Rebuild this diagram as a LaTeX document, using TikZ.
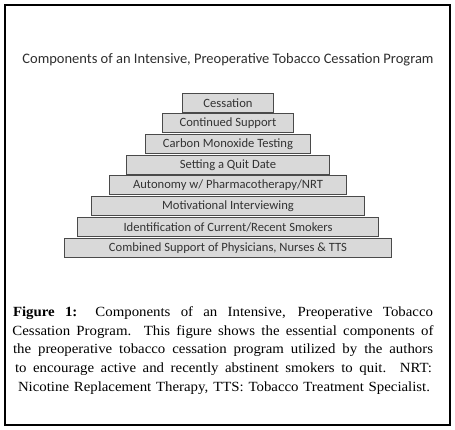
\documentclass[tikz,border=0pt]{standalone}
\usepackage{fontspec}
\setmainfont{Liberation Serif}
\newfontfamily\capfont[FakeStretch=1.06]{Liberation Serif}
\newfontfamily\carl{Carlito}
\definecolor{boxfill}{HTML}{D9D9D9}
\definecolor{boxdraw}{HTML}{4A4A4A}
\definecolor{txt}{HTML}{333333}
\begin{document}
\begin{tikzpicture}[x=1pt,y=1pt,
  tier/.style={draw=boxdraw,fill=boxfill,line width=1.2pt,minimum height=19pt,inner sep=0pt,
    font=\carl\fontsize{12.6}{14}\selectfont,text=txt},
  capline/.style={inner sep=0pt,font=\capfont\fontsize{14}{16}\selectfont}]
\useasboundingbox (0,0) rectangle (455,430);
\draw[line width=1.3pt] (5,5) rectangle (450,425);
\node[font=\carl\fontsize{14.5}{16}\selectfont,text=txt!90!black] (title) at (228,370) {Components of an Intensive, Preoperative Tobacco Cessation Program};
\node[tier,minimum width=91pt]  (b1) at (228,430-103) {Cessation};
\node[tier,minimum width=131pt] (b2) at (228,430-123) {Continued Support};
\node[tier,minimum width=165pt] (b3) at (228,430-144) {Carbon Monoxide Testing};
\node[tier,minimum width=203pt] (b4) at (228,430-165) {Setting a Quit Date};
\node[tier,minimum width=237pt] (b5) at (228,430-185) {Autonomy w/ Pharmacotherapy/NRT};
\node[tier,minimum width=273pt] (b6) at (228,430-206) {Motivational Interviewing};
\node[tier,minimum width=301pt] (b7) at (228,430-227) {Identification of Current/Recent Smokers};
\node[tier,minimum width=327pt] (b8) at (228,430-248) {Combined Support of Physicians, Nurses \& TTS};
\node[capline] (c1) at (223,430-313) {\makebox[420pt][s]{\textbf{Figure 1:} Components of an Intensive, Preoperative Tobacco}};
\node[capline] (c2) at (223,430-332) {\makebox[421pt][s]{Cessation Program. This figure shows the essential components of}};
\node[capline] (c3) at (223,430-350.5) {\makebox[420pt][s]{the preoperative tobacco cessation program utilized by the authors}};
\node[capline] (c4) at (223.5,430-369) {\makebox[417pt][s]{to encourage active and recently abstinent smokers to quit. NRT:}};
\node[capline] (c5) at (224,430-388) {\makebox[412pt][s]{Nicotine Replacement Therapy, TTS: Tobacco Treatment Specialist.}};
\end{tikzpicture}
\end{document}
